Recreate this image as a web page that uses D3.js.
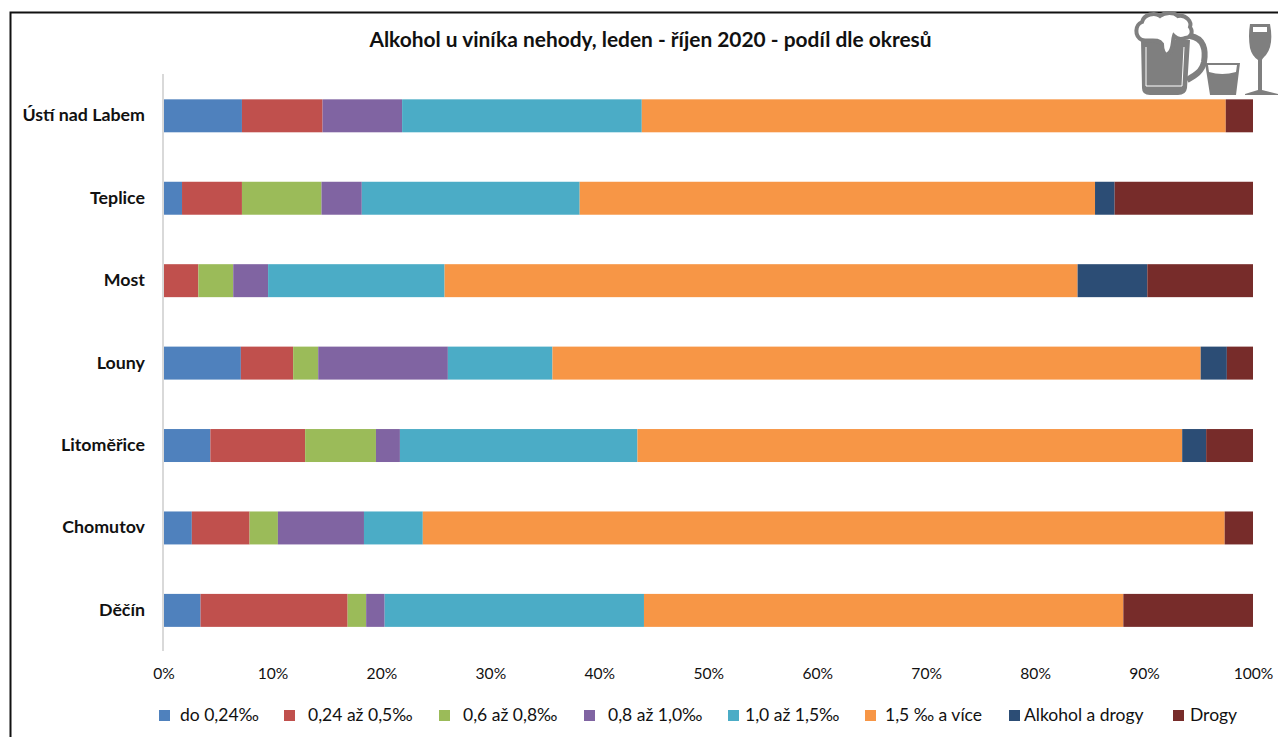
<!DOCTYPE html>
<html><head><meta charset="utf-8">
<script src="https://cdn.jsdelivr.net/npm/d3@7"></script>
<style>html,body{margin:0;padding:0;background:#fff}svg{display:block}text{font-family:Lato,"Noto Sans",sans-serif;fill:#111}</style>
</head><body><svg id="c" width="1278" height="737"></svg>
<script>
const categories = ["Ústí nad Labem","Teplice","Most","Louny","Litoměřice","Chomutov","Děčín"];
const seriesNames = ["do 0,24‰","0,24 až 0,5‰","0,6 až 0,8‰","0,8 až 1,0‰","1,0 až 1,5‰","1,5 ‰ a více","Alkohol a drogy","Drogy"];
const colors = ["#4f81bd","#c0504d","#9bbb59","#8064a2","#4bacc6","#f79646","#2c4d75","#772c2a"];
const s0 = [7.2,1.7,0,7.1,4.3,2.6,3.4];
const s1 = [7.4,5.5,3.2,4.8,8.7,5.3,13.5];
const s2 = [0,7.3,3.2,2.3,6.5,2.6,1.7];
const s3 = [7.3,3.7,3.2,11.9,2.2,7.9,1.7];
const s4 = [22.0,20.0,16.2,9.6,21.8,5.4,23.8];
const s5 = [53.6,47.3,58.1,59.5,50.0,73.6,44.0];
const s6 = [0,1.8,6.4,2.4,2.2,0,0];
const s7 = [2.5,12.7,9.7,2.4,4.3,2.6,11.9];
const ticks = [0,10,20,30,40,50,60,70,80,90,100];
const allSeries = [s0,s1,s2,s3,s4,s5,s6,s7];
const title = "Alkohol u viníka nehody, leden - říjen 2020 - podíl dle okresů";

const svg = d3.select("#c");
// frame
svg.append("path").attr("d","M10.5,737V12.5H1278").attr("fill","none").attr("stroke","#111").attr("stroke-width",2);

const x = d3.scaleLinear().domain([0,100]).range([163.5,1253]);
const y = d3.scaleBand().domain(categories).range([74.6,651.6]).paddingInner(0.6).paddingOuter(0.3);

svg.append("text").attr("x",650.5).attr("y",46.5).attr("text-anchor","middle")
  .attr("font-size",20.9).attr("font-weight",700).text(title);

// bars
const rows = categories.map((c,i)=>{const o={cat:c};seriesNames.forEach((n,j)=>o[n]=allSeries[j][i]);return o;});
const stack = d3.stack().keys(seriesNames)(rows);
svg.append("g").selectAll("g").data(stack).join("g").attr("fill",(d,i)=>colors[i])
  .selectAll("rect").data(d=>d).join("rect")
  .attr("x",d=>x(d[0])).attr("width",d=>x(Math.min(d[1],100))-x(d[0]))
  .attr("y",d=>y(d.data.cat)).attr("height",y.bandwidth());

// axes
const ax = svg.append("g").attr("transform","translate(0,674)")
  .call(d3.axisBottom(x).tickValues(ticks).tickFormat(d=>d+"%").tickSize(0).tickPadding(0));
ax.select(".domain").remove();
ax.selectAll("text").attr("font-size",15.6).attr("dy","0.35em");
const ay = svg.append("g").attr("transform","translate(145,-0.7)")
  .call(d3.axisLeft(y).tickSize(0).tickPadding(0));
ay.select(".domain").remove();
ay.selectAll("text").attr("font-size",17.8).attr("font-weight",700).attr("dy","0.35em");
svg.append("line").attr("x1",163).attr("x2",163).attr("y1",74).attr("y2",651).attr("stroke","#d9d9d9").attr("stroke-width",2);

// legend
const swatchX = d3.scaleOrdinal().domain(seriesNames).range([159,284,439,584,728,865,1009,1173]);
const labelX = d3.scaleOrdinal().domain(seriesNames).range([180,308,463,608,745,885,1024,1190]);
const lg = svg.append("g").selectAll("g").data(seriesNames).join("g");
lg.append("rect").attr("x",d=>swatchX(d)).attr("y",710).attr("width",11).attr("height",11).attr("fill",(d,i)=>colors[i]);
lg.append("text").attr("x",d=>labelX(d)).attr("y",715).attr("dy","0.35em").attr("font-size",17.5).text(d=>d);

// decorative icons
const ic = svg.append("g").attr("fill","#7f7f7f").attr("stroke","none");
// beer mug
ic.append("path").attr("fill","none").attr("stroke","#7f7f7f").attr("stroke-width",6)
  .attr("d","M1190,36C1204,38 1206,50 1204,62C1202,72 1194,76 1187,80");
ic.append("path").attr("d","M1141,40H1190L1187,88Q1186,95 1178,95H1150Q1142,95 1142,88Z");
ic.append("path").attr("fill","#fff").attr("stroke","#7f7f7f").attr("stroke-width",4)
  .attr("d","M1142,40C1134,36 1135,25 1142,22C1144,14 1155,12 1160,16C1165,12 1174,12 1178,16C1186,14 1192,22 1190,27C1194,33 1190,38 1185,38C1180,40 1176,38 1174,36C1172,42 1174,50 1168,54C1164,56 1162,50 1162,44C1158,38 1150,42 1142,40Z");
ic.append("path").attr("fill","none").attr("stroke","#fff").attr("stroke-width",1)
  .attr("d","M1146,47V86H1182L1184,47");
// tumbler
ic.append("path").attr("d","M1205,63H1240L1236,95H1210Z");
ic.append("path").attr("fill","#fff").attr("d","M1208,65H1237L1236,72Q1222,76 1209,72Z");
// wine glass
ic.append("path").attr("d","M1250,24H1270Q1274,45 1266,55Q1262,59 1262,60V90L1278,94V95H1245V94L1258,90V60Q1252,56 1250,48Q1248,36 1250,24Z");
ic.append("path").attr("fill","#fff").attr("d","M1253,27H1267V32H1253Z");
</script></body></html>
